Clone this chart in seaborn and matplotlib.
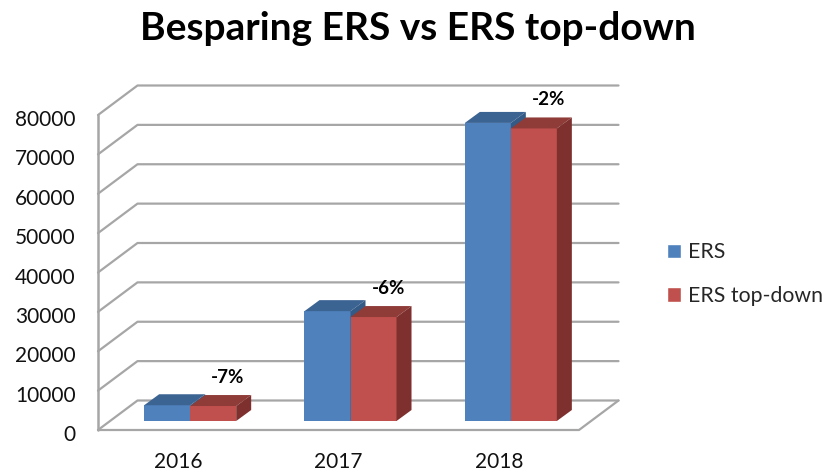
# import the libraries
import pandas as pd
import seaborn as sns
import matplotlib.pyplot as plt
from matplotlib.patches import Polygon
from matplotlib.transforms import Affine2D

# chart values
years = ["2016", "2017", "2018"]
ers = [4000, 27900, 75700]
ers_top_down = [3800, 26400, 74300]
percent_labels = ["-7%", "-6%", "-2%"]
y_ticks = [0, 10000, 20000, 30000, 40000, 50000, 60000, 70000, 80000]

blue = "#4F81BD"
red = "#C0504D"
dark_tops = {blue: ("#3C6493", "#345A86"), red: ("#8F3B38", "#7D302E")}
grid_color = "#A6A6A6"

sns.set_style("white")
plt.rcParams["font.family"] = ["Lato", "DejaVu Sans"]

df = pd.DataFrame(
    {
        "year": years * 2,
        "value": ers + ers_top_down,
        "series": ["ERS"] * 3 + ["ERS top-down"] * 3,
    }
)

fig = plt.figure(figsize=(8.24, 4.72), dpi=100)
ax = fig.add_axes([98 / 824, 42 / 472, 481 / 824, 315 / 472])

sns.barplot(
    data=df,
    x="year",
    y="value",
    hue="series",
    palette=[blue, red],
    width=0.574,
    saturation=1,
    ax=ax,
)
ax.set_xlim(-0.5, 2.5)
ax.set_ylim(0, 80000)

# pixels per data unit, the 3D look is all in pixel offsets
px_x = 481 / 3
px_y = 315 / 80000
wall_dx = 39.5 / px_x
wall_dy = 29.5 / px_y
bar_dx = 15 / px_x
bar_dy = 11 / px_y

# back wall gridlines and the diagonals on the left side
x0, x1 = ax.get_xlim()
for v in y_ticks:
    ax.plot([x0, x0 + wall_dx, x1 + wall_dx], [v, v + wall_dy, v + wall_dy],
            color=grid_color, lw=1.6, clip_on=False, zorder=1)
ax.plot([x0, x0], [0, 80000], color=grid_color, lw=1.8, clip_on=False, zorder=1)
ax.plot([x0, x1, x1 + wall_dx], [0, 0, wall_dy], color=grid_color, lw=1.6,
        clip_on=False, zorder=1)

# move the bars to mid depth and add tops and sides
shift = ax.transData + Affine2D().translate(12, 9)
bars = [p for p in ax.patches if p.get_height() > 0]
for i, bar in enumerate(bars):
    z = 3 + i % 3 + (0.5 if i >= 3 else 0)
    bar.set_transform(shift)
    bar.set_clip_on(False)
    bar.set_zorder(z)
    bar.set_linewidth(0)
    x, w, h = bar.get_x(), bar.get_width(), bar.get_height()
    color = blue if i < 3 else red
    top_color, side_color = dark_tops[color]
    ax.add_patch(Polygon(
        [(x, h), (x + w, h), (x + w + bar_dx, h + bar_dy), (x + bar_dx, h + bar_dy)],
        facecolor=top_color, lw=0, transform=shift, clip_on=False, zorder=z))
    ax.add_patch(Polygon(
        [(x + w, 0), (x + w + bar_dx, bar_dy), (x + w + bar_dx, h + bar_dy), (x + w, h)],
        facecolor=side_color, lw=0, transform=shift, clip_on=False, zorder=z))

# percent labels above the red bars
for i, label in enumerate(percent_labels):
    bar = bars[3 + i]
    ax.annotate(label, (bar.get_x() + bar.get_width() / 2, bar.get_height()),
                xycoords=shift, xytext=(10.5, 20.5), textcoords="offset points",
                ha="center", va="center", fontsize=13.5, fontweight="bold",
                color="black", zorder=10, annotation_clip=False)

# axes text
ax.set_xlabel("")
ax.set_ylabel("")
ax.set_yticks(y_ticks)
ax.set_yticklabels([str(v) for v in y_ticks])
sns.despine(ax=ax, left=True, bottom=True)
ax.tick_params(axis="y", length=0, pad=16, labelsize=15, labelcolor="#111111")
ax.tick_params(axis="x", length=0, pad=16, labelsize=15, labelcolor="#111111")

# the value labels sit a little under their gridlines
for lab in ax.get_yticklabels():
    lab.set_transform(lab.get_transform() + Affine2D().translate(0, -3))

# legend
handles, labels = ax.get_legend_handles_labels()
ax.legend(handles, labels, loc="center left", bbox_to_anchor=(667 / 824, 1 - 274 / 472),
          bbox_transform=fig.transFigure, frameon=False, fontsize=15.3,
          handlelength=0.65, handleheight=0.65, handletextpad=0.33,
          labelspacing=1.12, borderpad=0, borderaxespad=0)

fig.text(418 / 824, 1 - 28 / 472, "Besparing ERS vs ERS top-down", ha="center",
         va="center", fontsize=28, fontweight="bold", color="black")

fig.savefig("out.png", dpi=100)
